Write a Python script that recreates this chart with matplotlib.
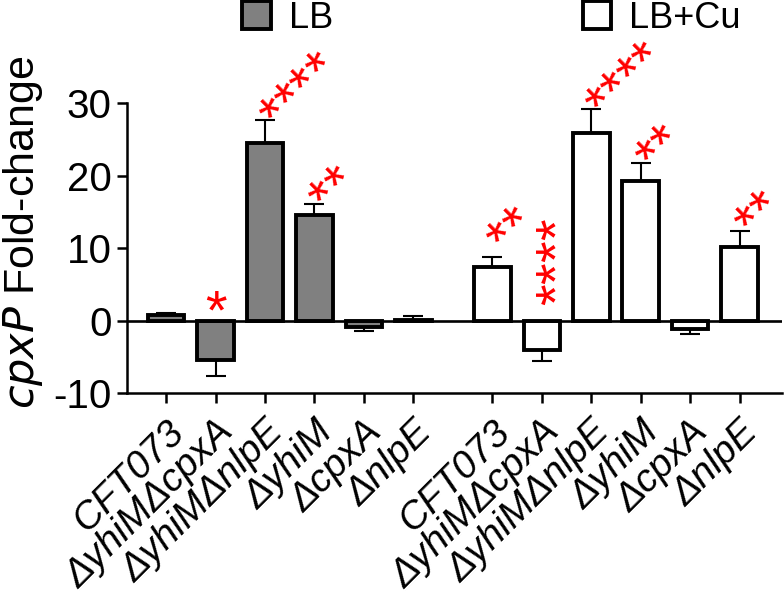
import numpy as np
import matplotlib
matplotlib.use("Agg")
import matplotlib.pyplot as plt

plt.rcParams['font.family'] = ['Liberation Sans', 'DejaVu Sans']
plt.rcParams['axes.unicode_minus'] = False

strains = ['CFT073', 'ΔyhiMΔcpxA', 'ΔyhiMΔnlpE', 'ΔyhiM', 'ΔcpxA', 'ΔnlpE']
lb_mean = [0.8, -5.5, 24.5, 14.6, -0.85, 0.05]
lb_err = [0.3, 2.2, 3.2, 1.5, 0.55, 0.6]
cu_mean = [7.4, -4.0, 25.9, 19.3, -1.1, 10.1]
cu_err = [1.4, 1.6, 3.3, 2.5, 0.7, 2.2]

# significance marks: (index, number of stars, direction, y of first star centre)
sig_lb = [(1, 1, 0, 3.4), (2, 4, 45, 29.9), (3, 2, 45, 18.5)]
sig_cu = [(0, 2, 45, 12.8), (1, 4, 90, 3.6), (2, 4, 45, 31.4),
          (3, 2, 45, 24.1), (5, 2, 45, 15.0)]

gap = 1.6
x_lb = np.arange(len(strains))
x_cu = x_lb + len(strains) - 1 + gap

fig = plt.figure(figsize=(7.84, 6.0), dpi=100)
ax = fig.add_axes([0.162, 0.345, 0.835, 0.483])

bw = 0.74
elw = 2.8
b1 = ax.bar(x_lb, lb_mean, width=bw, color='#808080', edgecolor='black',
            linewidth=elw, zorder=3, label='LB')
b2 = ax.bar(x_cu, cu_mean, width=bw, color='white', edgecolor='black',
            linewidth=elw, zorder=3, label='LB+Cu')


def one_sided(mean, err):
    mean = np.array(mean)
    err = np.array(err)
    lo = np.where(mean < 0, err, 0)
    hi = np.where(mean >= 0, err, 0)
    return [lo, hi]


for xs, m, e in [(x_lb, lb_mean, lb_err), (x_cu, cu_mean, cu_err)]:
    ax.errorbar(xs, m, yerr=one_sided(m, e), fmt='none', ecolor='black',
                elinewidth=1.5, capsize=7.5, capthick=1.5, zorder=2)

ax.axhline(0, color='black', lw=1.9, zorder=4)

# stars, drawn one by one along the given direction
sfs = 40
step = 0.389 * sfs
for xs, sig in [(x_lb, sig_lb), (x_cu, sig_cu)]:
    for i, n, rot, yc in sig:
        t = np.deg2rad(rot)
        # baseline centre sits 0.58 em below the star centre (perpendicular)
        bx, by = 0.58 * sfs * np.sin(t), -0.58 * sfs * np.cos(t)
        for k in range(n):
            ox = k * step * np.cos(t) + bx
            oy = k * step * np.sin(t) + by
            ax.annotate('*', xy=(xs[i], yc), xytext=(ox, oy),
                        textcoords='offset points', rotation=rot,
                        rotation_mode='anchor', ha='center', va='baseline',
                        color='#ff0000', fontsize=sfs, zorder=5,
                        annotation_clip=False)

ax.set_ylim(-10, 30)
ax.set_xlim(-0.79, x_cu[-1] + 0.85)
ax.set_yticks([-10, 0, 10, 20, 30])
ax.set_xticks(np.r_[x_lb, x_cu])
ax.set_xticklabels(strains * 2, rotation=45, rotation_mode='anchor', ha='right',
                   va='top', fontstyle='italic')
ax.tick_params(axis='both', length=7, width=1.8)
ax.tick_params(axis='y', pad=4, labelsize=29)
ax.tick_params(axis='x', pad=8, labelsize=28)

for sp in ['top', 'right']:
    ax.spines[sp].set_visible(False)
for sp in ['left', 'bottom']:
    ax.spines[sp].set_linewidth(1.8)

ax.set_ylabel('$\\it{cpxP}$ Fold-change', fontsize=31)
ax.yaxis.set_label_coords(-0.126, 0.555)

fig.legend(handles=[b1, b2], labels=['LB', 'LB+Cu'], loc='center',
           bbox_to_anchor=(0.627, 0.97), ncol=2, frameon=False, fontsize=26,
           handlelength=0.8, handleheight=0.8, handletextpad=0.5,
           columnspacing=6.9)

fig.savefig('out.png', dpi=100)
